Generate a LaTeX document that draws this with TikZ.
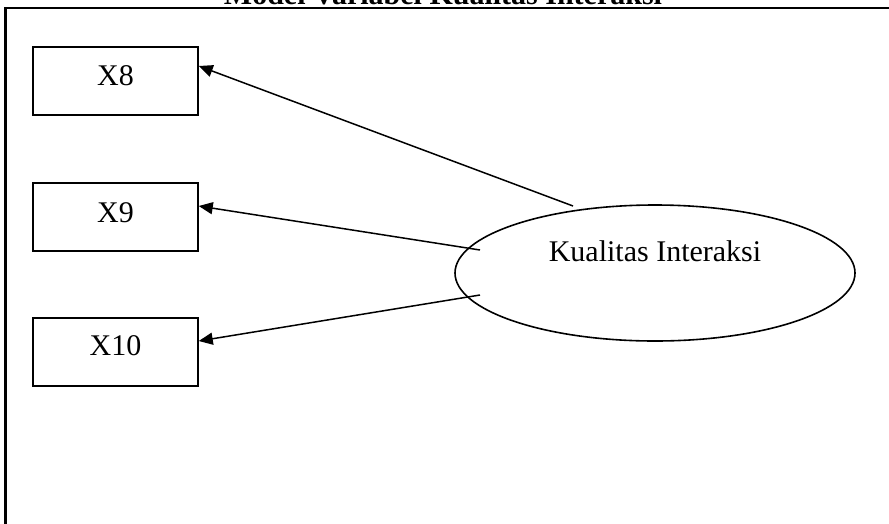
\documentclass[tikz,border=0pt]{standalone}
\usepackage{fontspec}
\setmainfont{Liberation Serif}
\usetikzlibrary{arrows.meta,shapes.geometric}

\tikzset{
  indicator/.style={draw, line width=1.5pt, minimum width=165pt, minimum height=68pt, inner sep=0pt},
  latent/.style={draw, ellipse, line width=1.6pt, minimum width=400pt, minimum height=136pt, inner sep=0pt},
  label/.style={anchor=base, inner sep=0pt, font=\fontsize{30}{36}\selectfont},
  loading/.style={line width=1.5pt, -{Triangle[length=14pt,width=12pt]}},
  frame/.style={line width=2.2pt}
}

\begin{document}
\begin{tikzpicture}[x=1pt, y=-1pt]
  \useasboundingbox (0,0) rectangle (889,523);
  \clip (0,0) rectangle (889,523);

  % caption, running off the top edge
  \node[label, font=\fontsize{30}{36}\selectfont\bfseries] (title) at (443,4.5) {Model Variabel Kualitas Interaksi};

  % open frame: top rule and left rule
  \draw[frame] (5.5,530) -- (5.5,8) -- (895,8);

  % indicator boxes
  \node[indicator] (x8)  at (115.5,81)  {};
  \node[indicator] (x9)  at (115.5,217) {};
  \node[indicator] (x10) at (115.5,352) {};
  \node[label] (x8t)  at (115.5,85)  {X8};
  \node[label] (x9t)  at (115.5,222) {X9};
  \node[label] (x10t) at (115.5,355) {X10};

  % latent construct
  \node[latent] (k) at (655,273) {};
  \node[label] (kt) at (655,261) {Kualitas Interaksi};

  % loadings
  \draw[loading] ([shift={(-82pt,67pt)}]k.center)  -- ([yshift=15pt]x8.east);
  \draw[loading] ([shift={(-175pt,23pt)}]k.center) -- ([yshift=11pt]x9.east);
  \draw[loading] ([shift={(-175pt,-22pt)}]k.center) -- ([yshift=11pt]x10.east);
\end{tikzpicture}
\end{document}
